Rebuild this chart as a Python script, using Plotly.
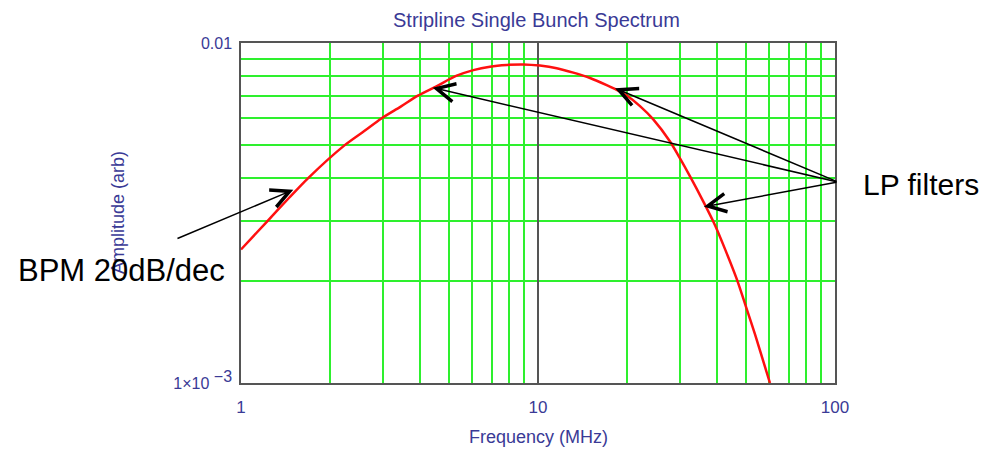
import plotly.graph_objects as go
import math

# ---- data ----
freq_mhz = [1.0, 1.23, 1.45, 1.68, 2.23, 2.6, 2.97, 3.45, 3.94, 4.55, 5.3,
            6.06, 6.89, 7.85, 8.92, 10.15, 11.56, 13.15, 14.97, 17.03, 18.41, 20.0,
            22.05, 24.44, 27.83, 30.0, 32.5, 36.0, 39.45, 42.6, 46.7, 50.1, 53.8,
            57.4, 60.4]
amplitude = [0.00247, 0.0030, 0.00350, 0.0040, 0.0050, 0.00551, 0.0060, 0.0065,
             0.0070, 0.00746, 0.0080,
             0.00832, 0.00852, 0.00862, 0.00865, 0.00858, 0.00843, 0.00818,
             0.00789, 0.00752, 0.00728, 0.00698,
             0.00652, 0.00596, 0.00513, 0.00459, 0.00405, 0.00342, 0.00291,
             0.00248, 0.00202, 0.00168, 0.00139, 0.001156, 0.0010]

x_tick_vals = [1, 10, 100]
x_tick_text = ["1", "10", "100"]
y_tick_vals = [0.001, 0.01]
y_tick_text = ["1×10<sup><span style='font-size:16px'> −3</span></sup>", "0.01"]

title_text = "Stripline Single Bunch Spectrum"
x_title = "Frequency (MHz)"
y_title = "Amplitude (arb)"
bpm_label = "BPM 20dB/dec"
lp_label = "LP filters"

# arrow heads / tails (data values)
bpm_arrow = {"head": (1.50, 0.00370), "tail": (0.604, 0.00265)}
lp_tail = (102.3, 0.00390)
lp_heads = [(4.42, 0.00739), (18.17, 0.00736), (36.2, 0.00330)]

NAVY = "#3a3a96"
GREEN = "#2ef02e"
FONT = "Arial, Liberation Sans, sans-serif"

fig = go.Figure()
fig.add_trace(go.Scatter(x=freq_mhz, y=amplitude, mode="lines",
                         line=dict(color="#ff1010", width=2.5, shape="spline",
                                   smoothing=0.8),
                         hoverinfo="skip", showlegend=False))

axis_common = dict(type="log", showline=True, mirror=True, linecolor="#555555",
                   linewidth=1.5, ticks="", showgrid=True, gridcolor="#555555",
                   gridwidth=1.5, zeroline=False,
                   minor=dict(tickmode="linear", dtick="D1", showgrid=True,
                              gridcolor=GREEN, gridwidth=1.8, ticks=""))

fig.update_xaxes(**axis_common, range=[0, 2], tickmode="array",
                 tickvals=x_tick_vals, ticktext=x_tick_text, ticklabelstandoff=8,
                 tickfont=dict(family=FONT, size=17, color=NAVY))
fig.update_yaxes(**axis_common, range=[-3, -2], tickmode="array",
                 tickvals=y_tick_vals, ticktext=y_tick_text, ticklabelstandoff=4,
                 tickfont=dict(family=FONT, size=16, color=NAVY))

ann = []
ann.append(dict(text=title_text, xref="paper", yref="paper", x=0.4975, y=1.069,
                showarrow=False, xanchor="center", yanchor="middle",
                font=dict(family=FONT, size=20, color=NAVY)))
ann.append(dict(text=x_title, xref="paper", yref="paper", x=0.5, y=-0.159,
                showarrow=False, xanchor="center", yanchor="middle",
                font=dict(family=FONT, size=18, color=NAVY)))
ann.append(dict(text=y_title, xref="paper", yref="paper", x=-0.207, y=0.5,
                showarrow=False, xanchor="center", yanchor="middle", textangle=-90,
                font=dict(family=FONT, size=18, color=NAVY)))
ann.append(dict(text=bpm_label, xref="paper", yref="paper", x=-0.202, y=0.332,
                showarrow=False, xanchor="center", yanchor="middle",
                font=dict(family=FONT, size=31, color="black")))
ann.append(dict(text=lp_label, xref="paper", yref="paper", x=1.1448, y=0.585,
                showarrow=False, xanchor="center", yanchor="middle",
                font=dict(family=FONT, size=30, color="black")))

def arrow(head, tail):
    return dict(text="", xref="x", yref="y", axref="x", ayref="y",
                x=math.log10(head[0]), y=math.log10(head[1]),
                ax=math.log10(tail[0]), ay=math.log10(tail[1]),
                showarrow=True, arrowhead=5, arrowsize=2.4, arrowwidth=1.5,
                arrowcolor="black", standoff=0, startstandoff=0)

ann.append(arrow(bpm_arrow["head"], bpm_arrow["tail"]))
for h in lp_heads:
    ann.append(arrow(h, lp_tail))

fig.update_layout(width=987, height=449,
                  margin=dict(l=241, r=152, t=43, b=66),
                  paper_bgcolor="white", plot_bgcolor="white",
                  annotations=ann, showlegend=False,
                  font=dict(family=FONT))

fig.write_html("out.html", config={"displayModeBar": False},
               post_script="document.body.style.margin='0';document.body.style.padding='0';")
